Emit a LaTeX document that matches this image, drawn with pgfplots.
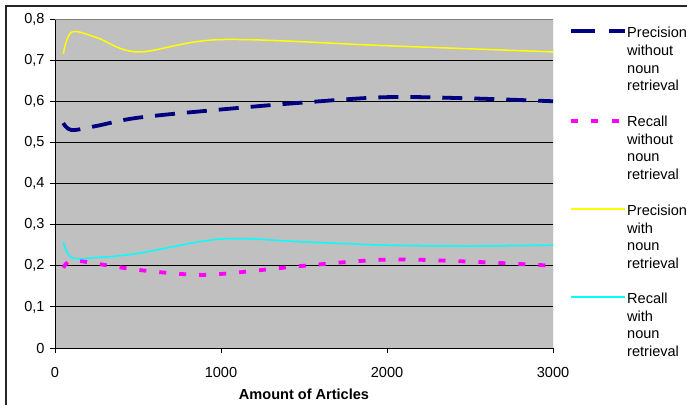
\documentclass[border=0pt]{standalone}
\usepackage{fontspec}
\setmainfont{Liberation Sans}
\usepackage{pgfplots}
\pgfplotsset{compat=1.18}
\definecolor{plotgray}{RGB}{192,192,192}
\definecolor{navyline}{RGB}{0,0,128}
\definecolor{magline}{RGB}{255,0,255}
\definecolor{yelline}{RGB}{255,255,0}
\definecolor{cyanline}{RGB}{0,255,255}
\newcommand\chartfont{\fontsize{14.6}{17.7}\selectfont}
\begin{document}
\begin{tikzpicture}[x=1bp,y=1bp]
\useasboundingbox (0,0) rectangle (687,404);
\draw[line width=1.2bp,black!85] (6,-5) rectangle (700,398);
\begin{axis}[
    at={(55bp,56bp)},
    anchor=south west,
    scale only axis,
    width=498bp,
    height=329bp,
    xmin=0, xmax=3000,
    ymin=0, ymax=0.8,
    axis x line*=bottom,
    axis y line*=left,
    axis line style={black, line width=1bp},
    axis background/.style={fill=plotgray},
    xtick={0,1000,2000,3000},
    ytick={0,0.1,0.2,0.3,0.4,0.5,0.6,0.7,0.8},
    ymajorgrids,
    grid style={black, line width=0.8bp},
    tick align=outside,
    major tick length=5bp,
    tick style={black, line width=0.8bp},
    /pgf/number format/assume math mode=true,
    /pgf/number format/use comma,
    /pgf/number format/1000 sep={},
    yticklabel style={/pgf/number format/fixed, /pgf/number format/precision=1},
    ticklabel style={font=\chartfont},
    xlabel={\textbf{Amount of Articles}},
    xlabel style={font=\chartfont, yshift=-4bp},
    x tick label style={yshift=-11bp},
    y tick label style={xshift=-2bp},
    every axis plot/.append style={smooth, tension=0.55},
]
\draw[gray, line width=1bp] (rel axis cs:0,1) -- (rel axis cs:1,1) -- (rel axis cs:1,0);
% Precision without noun retrieval
\addplot[navyline, line width=3.8bp, dash pattern=on 20bp off 12bp] coordinates {
    (50,0.547) (100,0.53) (250,0.54) (500,0.56) (1000,0.58) (1500,0.597) (2000,0.61) (2500,0.607) (3000,0.60)
};
% Recall without noun retrieval
\addplot[magline, line width=3.8bp, dash pattern=on 7bp off 13bp] coordinates {
    (50,0.195) (100,0.213) (250,0.205) (500,0.19) (800,0.179) (1000,0.18) (1500,0.2) (2000,0.215) (2500,0.21) (3000,0.20)
};
% Precision with noun retrieval
\addplot[yelline, line width=1.5bp] coordinates {
    (50,0.715) (100,0.768) (250,0.755) (500,0.72) (1000,0.75) (2000,0.735) (3000,0.72)
};
% Recall with noun retrieval
\addplot[cyanline, line width=1.5bp] coordinates {
    (50,0.258) (100,0.22) (250,0.22) (500,0.23) (1000,0.265) (1500,0.258) (2000,0.25) (2500,0.248) (3000,0.25)
};
\end{axis}
% legend
\draw[navyline, line width=4bp] (571,373) -- (595,373) (609,373) -- (625,373);
\draw[magline, line width=4bp] (571,283) -- (578,283) (591,283) -- (598,283) (612,283) -- (619,283);
\draw[yelline, line width=1.5bp] (571,195) -- (625,195);
\draw[cyanline, line width=1.5bp] (571,107) -- (625,107);
\foreach \b/\ta/\tb in {366.3/Precision/without, 277.5/Recall/without, 188.5/Precision/with, 100.5/Recall/with}{
  \node[anchor=base west, inner sep=0, font=\chartfont] at (627,\b) {\ta};
  \node[anchor=base west, inner sep=0, font=\chartfont] at (627,\b-17.7) {\tb};
  \node[anchor=base west, inner sep=0, font=\chartfont] at (627,\b-35.4) {noun};
  \node[anchor=base west, inner sep=0, font=\chartfont] at (627,\b-53.1) {retrieval};
}
\end{tikzpicture}
\end{document}
